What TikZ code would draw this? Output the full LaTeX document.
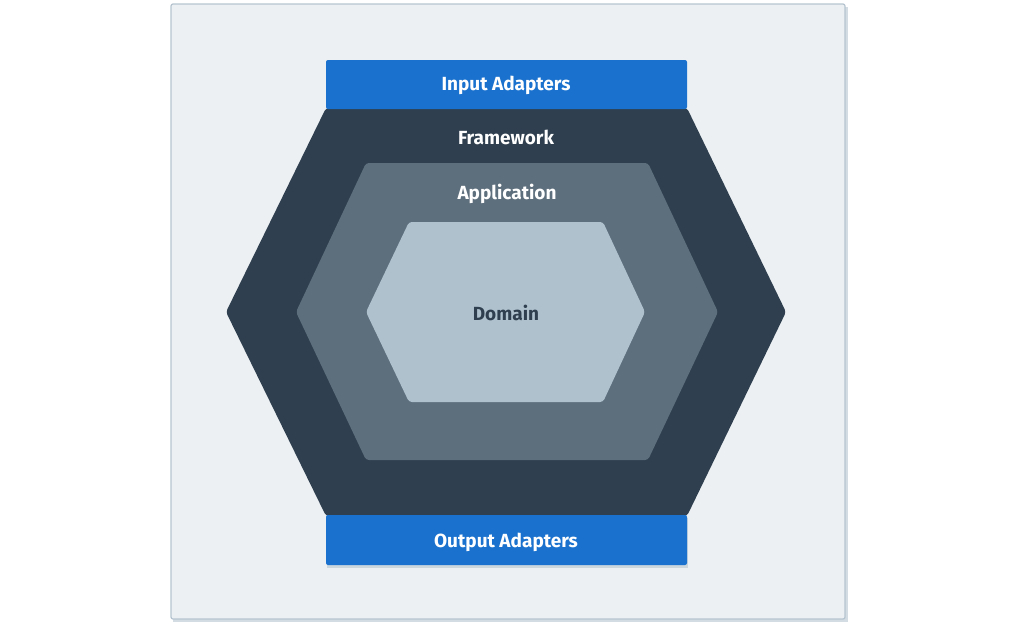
\documentclass[tikz,border=0pt]{standalone}
\usepackage{fontspec}
\setmainfont{Fira Sans}
\newfontfamily\labelfont{Fira Sans Bold}
\definecolor{framebg}{HTML}{ECF0F3}
\definecolor{frameline}{HTML}{B5C4CF}
\definecolor{adapterblue}{HTML}{1B72CE}
\definecolor{fwcol}{HTML}{2F3F4F}
\definecolor{appcol}{HTML}{5D6E7C}
\definecolor{domcol}{HTML}{AFC1CD}
\begin{document}
\begin{tikzpicture}[x=1pt,y=-1pt,
  lbl/.style={font=\labelfont\fontsize{19}{22}\selectfont, inner sep=0pt, anchor=center},
  whitelbl/.style={lbl, text=white},
  hexlayer/.style={rounded corners=3pt},
  adapter/.style={fill=adapterblue, rounded corners=2pt}]
\useasboundingbox (0,0) rectangle (1014,622);
% frame
\fill[frameline!60] (173,7) rectangle (848,622);
\draw[fill=framebg, draw=frameline, line width=1.2pt, rounded corners=2pt] (171,4) rectangle (845,619);
% framework hexagon
\fill[fwcol, hexlayer] (326,108) -- (687,108) -- (786,312) -- (687,516) -- (326,516) -- (226,312) -- cycle;
% application hexagon
\fill[appcol, hexlayer] (366,163) -- (648,163) -- (718,312) -- (648,460) -- (366,460) -- (296,312) -- cycle;
% domain hexagon
\fill[domcol, hexlayer] (409,222) -- (603,222) -- (645,312) -- (603,402) -- (409,402) -- (366,312) -- cycle;
% adapters
\fill[frameline!70] (327,518) rectangle (688,568);
\path[adapter] (326,60) rectangle (687,109);
\path[adapter] (326,515) rectangle (687,565);
% labels
\node[whitelbl] (input) at (506,85) {Input Adapters};
\node[whitelbl] (framework) at (506,137) {Framework};
\node[whitelbl] (application) at (507,194) {Application};
\node[lbl, text=fwcol] (domain) at (506,313) {Domain};
\node[whitelbl] (output) at (506,542) {Output Adapters};
\end{tikzpicture}
\end{document}
